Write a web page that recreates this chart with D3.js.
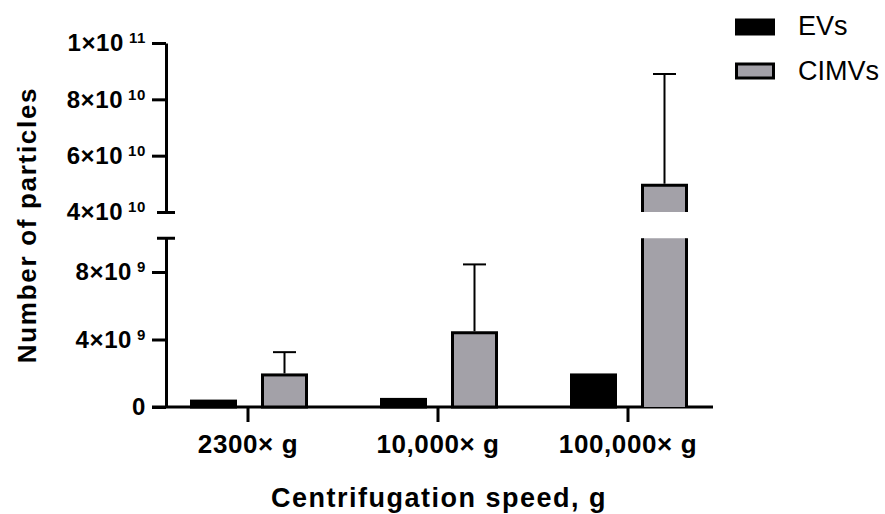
<!DOCTYPE html>
<html>
<head>
<meta charset="utf-8">
<script src="https://cdn.jsdelivr.net/npm/d3@7"></script>
<style>
  body { margin: 0; background: #fff; }
  svg { display: block; font-family: "Liberation Sans", Arial, sans-serif; }
</style>
</head>
<body>
<script>
// data
let categories = ["2300× g", "10,000× g", "100,000× g"]
let series = ["EVs", "CIMVs"]
let evMeans = [0.35e9, 0.45e9, 1.9e9]
let cimvMeans = [1.9e9, 4.4e9, 4.95e10]
let cimvErr = [1.35e9, 4.05e9, 3.95e10]
let lowTicks = [0, 4e9, 8e9]
let highTicks = [4e10, 6e10, 8e10, 1e11]

let width = 885
let height = 514
let grey = "#a3a1a8"

let svg = d3.select("body").append("svg")
    .attr("width", width)
    .attr("height", height)

// broken y axis: two linear pieces
let yLow = d3.scaleLinear().domain([0, 1e10]).range([407, 238.25])
let yHigh = d3.scaleLinear().domain([4e10, 1e11]).range([212, 43])
let yPos = v => v <= 1e10 ? yLow(v) : yHigh(v)

let x = d3.scaleBand().domain(categories).range([153, 723])
let xSub = d3.scaleBand().domain(series).range([38.5, 153.5]).paddingInner(27 / 71)

let rows = categories.map((c, i) => ({
    cat: c,
    bars: [
        {s: "EVs", v: evMeans[i], err: 0},
        {s: "CIMVs", v: cimvMeans[i], err: cimvErr[i]}
    ]
}))

// superscript labels like 4×10^9
let label = (sel) => {
    sel.each(function(d) {
        let t = d3.select(this).text(null)
        if (d === 0) { t.text("0"); return }
        let e = Math.floor(Math.log10(d) + 1e-9)
        let m = Math.round(d / Math.pow(10, e))
        t.append("tspan").text(m + "×10")
        t.append("tspan").attr("dx", 5).attr("dy", -8)
            .style("font-size", "15px").text(e)
    })
}

let styleAxis = (g) => {
    g.selectAll("path, line").attr("stroke", "#000").attr("stroke-width", 3)
    g.selectAll("text").attr("fill", "#000")
        .style("font-size", "24px").style("font-weight", "bold")
        .style("letter-spacing", "0.6px")
}

let gLow = svg.append("g").attr("transform", "translate(166,0)")
    .call(d3.axisLeft(yLow).tickValues(lowTicks).tickSize(14).tickSizeOuter(0).tickPadding(6))
gLow.selectAll(".tick text").call(label)
styleAxis(gLow)

let gHigh = svg.append("g").attr("transform", "translate(166,0)")
    .call(d3.axisLeft(yHigh).tickValues(highTicks).tickSize(14).tickSizeOuter(0).tickPadding(6))
gHigh.selectAll(".tick text").call(label)
// bottom of the top piece is a cap across the axis
gHigh.selectAll(".tick").filter(d => d === 4e10).select("line").attr("x1", 9).attr("x2", -9)
styleAxis(gHigh)

// cap on top of the lower piece
svg.append("line")
    .attr("x1", 157).attr("x2", 175)
    .attr("y1", yLow(1e10)).attr("y2", yLow(1e10))
    .attr("stroke", "#000").attr("stroke-width", 3)

// x axis
let gx = svg.append("g").attr("transform", "translate(0,407)")
    .call(d3.axisBottom(x).tickSize(15).tickSizeOuter(0).tickPadding(13))
gx.select(".domain").remove()
gx.append("line").attr("x1", 152).attr("x2", 713).attr("stroke", "#000").attr("stroke-width", 3)
gx.selectAll("line").attr("stroke", "#000").attr("stroke-width", 3)
gx.selectAll("text").attr("fill", "#000")
    .style("font-size", "26px").style("font-weight", "bold").style("letter-spacing", "0.6px")

// bars
let groups = svg.selectAll(".grp").data(rows).enter()
    .append("g").attr("class", "grp")
    .attr("transform", d => "translate(" + x(d.cat) + ",0)")

groups.each(function(row) {
    let g = d3.select(this)
    row.bars.forEach(b => {
        let x0 = xSub(b.s)
        let w = xSub.bandwidth()
        let fill = b.s === "EVs" ? "#000" : grey
        if (b.v <= 1e10) {
            g.append("rect")
                .attr("x", x0).attr("width", w)
                .attr("y", yLow(b.v)).attr("height", yLow(0) - yLow(b.v))
                .attr("fill", fill).attr("stroke", "#000").attr("stroke-width", 3)
        } else {
            // lower piece, sides only
            g.append("rect")
                .attr("x", x0).attr("width", w)
                .attr("y", yLow(1e10)).attr("height", yLow(0) - yLow(1e10))
                .attr("fill", fill)
            g.append("path")
                .attr("d", "M" + x0 + "," + yLow(1e10) + "V" + yLow(0) +
                    "M" + (x0 + w) + "," + yLow(1e10) + "V" + yLow(0))
                .attr("fill", "none").attr("stroke", "#000").attr("stroke-width", 3)
            // upper piece, top and sides
            g.append("rect")
                .attr("x", x0).attr("width", w)
                .attr("y", yHigh(b.v)).attr("height", yHigh(4e10) - yHigh(b.v))
                .attr("fill", fill)
            g.append("path")
                .attr("d", "M" + x0 + "," + yHigh(4e10) + "V" + yHigh(b.v) +
                    "H" + (x0 + w) + "V" + yHigh(4e10))
                .attr("fill", "none").attr("stroke", "#000").attr("stroke-width", 3)
        }
        if (b.err > 0) {
            let cx = x0 + w / 2
            let yTop = yPos(b.v + b.err)
            g.append("line")
                .attr("x1", cx).attr("x2", cx)
                .attr("y1", yPos(b.v) - 1.5).attr("y2", yTop)
                .attr("stroke", "#000").attr("stroke-width", 2)
            g.append("line")
                .attr("x1", cx - 11.5).attr("x2", cx + 11.5)
                .attr("y1", yTop).attr("y2", yTop)
                .attr("stroke", "#000").attr("stroke-width", 2)
        }
    })
})

// axis titles
svg.append("text")
    .attr("x", 439).attr("y", 507)
    .attr("text-anchor", "middle")
    .style("font-size", "27px").style("font-weight", "bold").style("letter-spacing", "1.5px")
    .text("Centrifugation speed, g")

svg.append("text")
    .attr("transform", "translate(36,225) rotate(-90)")
    .attr("text-anchor", "middle")
    .style("font-size", "26px").style("font-weight", "bold").style("letter-spacing", "1.7px")
    .text("Number of particles")

// legend
let legend = svg.append("g")
legend.append("rect").attr("x", 735).attr("y", 18.5).attr("width", 40).attr("height", 17).attr("fill", "#000")
legend.append("rect").attr("x", 736.5).attr("y", 64).attr("width", 37).attr("height", 14)
    .attr("fill", grey).attr("stroke", "#000").attr("stroke-width", 3)
legend.append("text").attr("x", 798).attr("y", 35).style("font-size", "27px").text("EVs")
legend.append("text").attr("x", 798).attr("y", 80).style("font-size", "27px").text("CIMVs")
</script>
</body>
</html>
